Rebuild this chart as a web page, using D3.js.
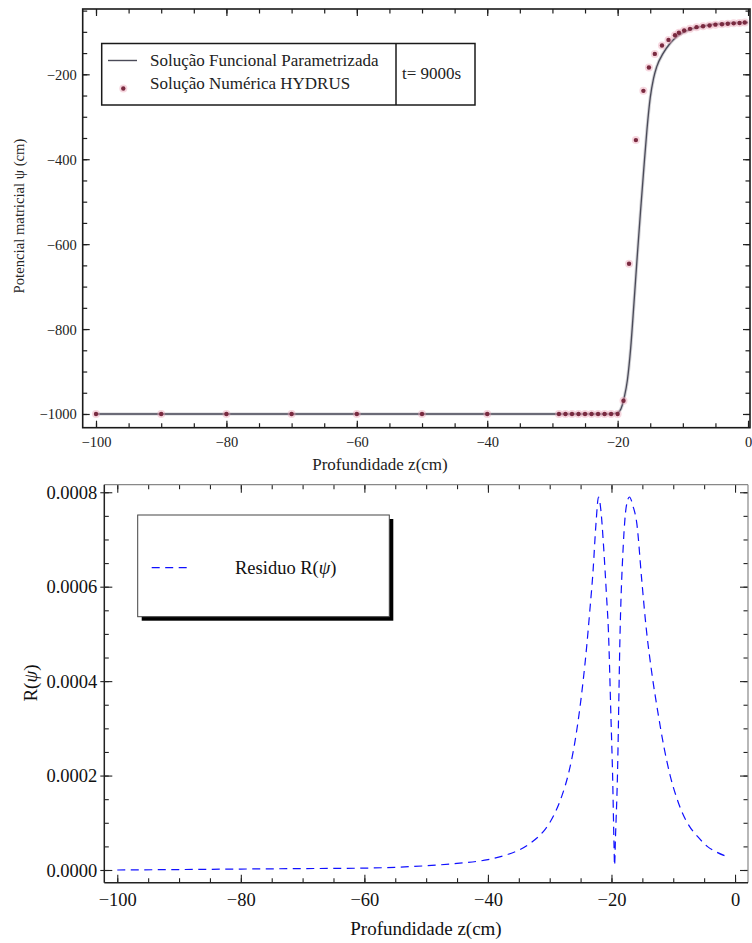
<!DOCTYPE html>
<html>
<head>
<meta charset="utf-8">
<script src="https://cdn.jsdelivr.net/npm/d3@7"></script>
<style>
  body { margin: 0; background: #fff; }
  svg { display: block; }
  text { font-family: "Liberation Serif", "Times New Roman", serif; }
</style>
</head>
<body>
<svg id="chart" width="752" height="943"></svg>
<script>
// ---------- data: upper panel (pressure head vs depth, t = 9000 s) ----------
const hydrusDepth = [-100, -90, -80, -70, -60, -50, -40,
  -29, -28, -27, -26, -25, -24, -23, -22, -21, -20,
  -19.1, -18.25, -17.2, -16.05, -15.2, -14.3, -13.2, -12.2, -11.2, -10.6,
  -9.8, -8.9, -7.9, -6.9, -5.9, -5.0, -4.0, -3.1, -2.2, -1.3, -0.5];
const hydrusPsi = [-1000, -1000, -1000, -1000, -1000, -1000, -1000,
  -1000, -1000, -1000, -1000, -1000, -1000, -1000, -1000, -1000, -1000,
  -969, -646, -355, -239, -184, -152, -132, -119, -108, -102,
  -97, -93, -89, -87, -85, -83, -82, -81, -80, -79, -78];

const fitDepth = [-100, -21, -20, -19.5, -19, -18.5, -18, -17.5, -17, -16.5, -16,
  -15.5, -15, -14.5, -14, -13, -12, -11, -10, -9, -8, -7, -6, -5, -4, -3, -2, -1, 0];
const fitPsi = [-1000, -1000, -997, -988, -962, -920, -845, -740, -630, -525, -425,
  -330, -255, -210, -182, -150, -128, -112, -102, -95, -90, -87, -84, -82, -81, -80, -79, -78.5, -78];

const topXTicks = [-100, -80, -60, -40, -20, 0];
const topYTicks = [-1000, -800, -600, -400, -200];

// ---------- data: lower panel (residual R(psi) vs depth) ----------
const residDepth = [-100, -90, -80, -70, -60, -50, -45, -40, -37, -35, -33, -31, -30,
  -29, -28, -27, -26, -25, -24, -23.5, -23, -22.5, -22.1, -21.7, -21.3, -20.8, -20.5,
  -20.1, -19.8, -19.6, -19.5, -19.35, -19.05, -18.6, -18.1, -17.6, -17.1, -16.5, -15.9,
  -15.1, -14.4, -13.5, -12.5, -11.5, -10.5, -9.5, -8.5, -7.5, -6.0, -4.5, -3.0, -1.0];
const residValue = [0.0000000, 0.0000010, 0.0000020, 0.0000030, 0.0000040, 0.0000090,
  0.0000140, 0.0000220, 0.0000320, 0.0000420, 0.0000580, 0.0000820, 0.0001000,
  0.0001250, 0.0001580, 0.0002020, 0.0002650, 0.0003550, 0.0004750, 0.0005500,
  0.0006300, 0.0007350, 0.0007900, 0.0007600, 0.0006900, 0.0005800, 0.0005080,
  0.0003300, 0.0001900, 0.0000600, 0.0000100, 0.0000700, 0.0001900, 0.0005080,
  0.0006850, 0.0007700, 0.0007900, 0.0007700, 0.0007340, 0.0006140, 0.0005150,
  0.0004200, 0.0003350, 0.0002600, 0.0002000, 0.0001550, 0.0001200, 0.0000950,
  0.0000700, 0.0000500, 0.0000380, 0.0000270];

const botXTicks = [-100, -80, -60, -40, -20, 0];
const botYTicks = [0, 0.0002, 0.0004, 0.0006, 0.0008];

const svg = d3.select("#chart");

// Draws inward ticks on all four sides of a framed panel.
function frameTicks(g, x, y, o) {
  const [xl, xr] = x.range();
  const [yb, yt] = y.range();
  const xMinor = d3.range(o.xMin[0], o.xMin[1] + 1e-9, o.xMin[2]);
  const yMinor = d3.range(o.yMin[0], o.yMin[1] + 1e-12, o.yMin[2]);
  const style = sel => {
    sel.select(".domain").remove();
    sel.selectAll("line").attr("stroke", o.tickColor).attr("stroke-width", o.tickWidth);
  };
  // bottom, minor + labelled majors
  g.append("g").attr("transform", `translate(0,${yb})`)
    .call(d3.axisBottom(x).tickValues(xMinor).tickSize(-o.minLen).tickFormat("")).call(style);
  const bx = g.append("g").attr("transform", `translate(0,${yb})`)
    .call(d3.axisBottom(x).tickValues(o.xTicks).tickSizeInner(-o.majLen).tickSizeOuter(0)
      .tickPadding(o.xPad).tickFormat(o.xFmt)).call(style);
  bx.selectAll("text").attr("font-size", o.font).attr("font-family", "Liberation Serif, serif")
    .attr("fill", o.textColor).attr("dy", 0).attr("y", o.xPad);
  // top
  g.append("g").attr("transform", `translate(0,${yt})`)
    .call(d3.axisTop(x).tickValues(xMinor).tickSize(-o.minLen).tickFormat("")).call(style);
  g.append("g").attr("transform", `translate(0,${yt})`)
    .call(d3.axisTop(x).tickValues(o.xTicks).tickSize(-o.majLen).tickFormat("")).call(style);
  // left
  g.append("g").attr("transform", `translate(${xl},0)`)
    .call(d3.axisLeft(y).tickValues(yMinor).tickSize(-o.minLen).tickFormat("")).call(style);
  const ly = g.append("g").attr("transform", `translate(${xl},0)`)
    .call(d3.axisLeft(y).tickValues(o.yTicks).tickSizeInner(-o.majLen).tickSizeOuter(0)
      .tickPadding(o.yPad).tickFormat(o.yFmt)).call(style);
  ly.selectAll("text").attr("font-size", o.font).attr("font-family", "Liberation Serif, serif")
    .attr("fill", o.textColor).attr("dy", "0.34em");
  if (o.outLen) {
    g.append("g").attr("transform", `translate(${xl},0)`)
      .call(d3.axisLeft(y).tickValues(o.yTicks).tickSize(o.outLen).tickFormat("")).call(style);
  }
  // right
  g.append("g").attr("transform", `translate(${xr},0)`)
    .call(d3.axisRight(y).tickValues(yMinor).tickSize(-o.minLen).tickFormat("")).call(style);
  g.append("g").attr("transform", `translate(${xr},0)`)
    .call(d3.axisRight(y).tickValues(o.yTicks).tickSize(-o.majLen).tickFormat("")).call(style);
}

// ======================= upper panel =======================
{
  const x = d3.scaleLinear().domain([-102.04, 0.3]).range([82.7, 750]);
  const y = d3.scaleLinear().domain([-1032.3, -46.2]).range([427.7, 9]);
  const g = svg.append("g");

  const fit = d3.zip(fitDepth, fitPsi);
  const line = d3.line().x(d => x(d[0])).y(d => y(d[1])).curve(d3.curveMonotoneX);
  g.append("path").datum(fit).attr("d", line)
    .attr("fill", "none").attr("stroke", "#b0b0b8").attr("stroke-width", 3.2).attr("opacity", 0.6);
  g.append("path").datum(fit).attr("d", line)
    .attr("fill", "none").attr("stroke", "#4a4a58").attr("stroke-width", 1.3);

  const pts = d3.zip(hydrusDepth, hydrusPsi);
  g.append("g").selectAll("circle").data(pts).join("circle")
    .attr("cx", d => x(d[0])).attr("cy", d => y(d[1])).attr("r", 4)
    .attr("fill", "#eaa6b8").attr("opacity", 0.45);
  g.append("g").selectAll("circle").data(pts).join("circle")
    .attr("cx", d => x(d[0])).attr("cy", d => y(d[1])).attr("r", 2.2)
    .attr("fill", "#7a2a40");

  frameTicks(g, x, y, {
    xTicks: topXTicks, yTicks: topYTicks,
    xMin: [-100, 0, 5], yMin: [-1000, -50, 50],
    majLen: 7, minLen: 4.5, tickColor: "#1e1e1e", tickWidth: 1.2,
    font: 14.5, textColor: "#222", xPad: 19, yPad: 6,
    xFmt: d3.format("d"), yFmt: d3.format("d")
  });

  g.append("rect").attr("x", 82.7).attr("y", 9).attr("width", 750 - 82.7).attr("height", 427.7 - 9)
    .attr("fill", "none").attr("stroke", "#1a1a1a").attr("stroke-width", 1.6);

  g.append("text").attr("x", 380).attr("y", 470).attr("text-anchor", "middle")
    .attr("font-size", 17).attr("fill", "#222").text("Profundidade z(cm)");
  g.append("text").attr("transform", "translate(24,216) rotate(-90)").attr("text-anchor", "middle")
    .attr("font-size", 14.7).attr("fill", "#222").text("Potencial matricial ψ (cm)");

  // legend
  const lg = g.append("g");
  lg.append("rect").attr("x", 101.7).attr("y", 43.5).attr("width", 373.3).attr("height", 61.5)
    .attr("fill", "#fff").attr("stroke", "#1a1a1a").attr("stroke-width", 1.5);
  lg.append("line").attr("x1", 396).attr("x2", 396).attr("y1", 43.5).attr("y2", 105)
    .attr("stroke", "#1a1a1a").attr("stroke-width", 1.5);
  lg.append("line").attr("x1", 108).attr("x2", 137).attr("y1", 60.5).attr("y2", 60.5)
    .attr("stroke", "#4a4a58").attr("stroke-width", 1.4);
  lg.append("circle").attr("cx", 123.3).attr("cy", 88.5).attr("r", 4).attr("fill", "#eaa6b8").attr("opacity", 0.45);
  lg.append("circle").attr("cx", 123.3).attr("cy", 88.5).attr("r", 2.2).attr("fill", "#7a2a40");
  lg.append("text").attr("x", 150).attr("y", 65.5).attr("font-size", 17).attr("fill", "#222")
    .text("Solução Funcional Parametrizada");
  lg.append("text").attr("x", 150).attr("y", 88.5).attr("font-size", 17).attr("fill", "#222")
    .text("Solução Numérica HYDRUS");
  lg.append("text").attr("x", 402).attr("y", 79).attr("font-size", 17).attr("fill", "#222")
    .text("t= 9000s");
}

// ======================= lower panel =======================
{
  const x = d3.scaleLinear().domain([-102.1, 2.1]).range([104.3, 748]);
  const y = d3.scaleLinear().domain([-0.0000269, 0.000816]).range([882.7, 484.7]);
  const g = svg.append("g");

  const res = d3.zip(residDepth, residValue);
  const line = d3.line().x(d => x(d[0])).y(d => y(d[1])).curve(d3.curveMonotoneX);
  g.append("path").datum(res).attr("d", line)
    .attr("fill", "none").attr("stroke", "#1010ff").attr("stroke-width", 1.2)
    .attr("stroke-dasharray", "8,5.5");

  frameTicks(g, x, y, {
    xTicks: botXTicks, yTicks: botYTicks,
    xMin: [-100, 0, 5], yMin: [0, 0.0008, 0.00005],
    majLen: 8, minLen: 4.5, tickColor: "#222", tickWidth: 1.1, outLen: 4,
    font: 18.5, textColor: "#111", xPad: 23, yPad: 7,
    xFmt: d3.format("d"), yFmt: d3.format(".4f")
  });

  // frame: dark left/bottom, grey top/right
  g.append("line").attr("x1", 104.3).attr("x2", 748).attr("y1", 484.7).attr("y2", 484.7)
    .attr("stroke", "#888").attr("stroke-width", 1.2);
  g.append("line").attr("x1", 748).attr("x2", 748).attr("y1", 484.7).attr("y2", 882.7)
    .attr("stroke", "#888").attr("stroke-width", 1.2);
  g.append("line").attr("x1", 104.3).attr("x2", 104.3).attr("y1", 484.7).attr("y2", 882.7)
    .attr("stroke", "#222").attr("stroke-width", 1.5);
  g.append("line").attr("x1", 104.3).attr("x2", 748).attr("y1", 882.7).attr("y2", 882.7)
    .attr("stroke", "#222").attr("stroke-width", 1.5);

  g.append("text").attr("x", 426).attr("y", 935).attr("text-anchor", "middle")
    .attr("font-size", 19).attr("fill", "#111").text("Profundidade z(cm)");
  const yl = g.append("text").attr("transform", "translate(37,683) rotate(-90)")
    .attr("text-anchor", "middle").attr("font-size", 19).attr("fill", "#111");
  yl.append("tspan").text("R(");
  yl.append("tspan").attr("font-style", "italic").text("ψ");
  yl.append("tspan").text(")");

  // legend with drop shadow
  const lg = g.append("g");
  lg.append("rect").attr("x", 141.7).attr("y", 519).attr("width", 251.6).attr("height", 101.7).attr("fill", "#000");
  lg.append("rect").attr("x", 137.7).attr("y", 515).attr("width", 251.6).attr("height", 101.7)
    .attr("fill", "#fff").attr("stroke", "#444").attr("stroke-width", 1);
  lg.append("line").attr("x1", 151.7).attr("x2", 190).attr("y1", 567.7).attr("y2", 567.7)
    .attr("stroke", "#1010ff").attr("stroke-width", 1.2).attr("stroke-dasharray", "8,5.5");
  const lt = lg.append("text").attr("x", 235).attr("y", 574).attr("font-size", 18.5).attr("fill", "#111");
  lt.append("tspan").text("Residuo R(");
  lt.append("tspan").attr("font-style", "italic").text("ψ");
  lt.append("tspan").text(")");
}
</script>
</body>
</html>
